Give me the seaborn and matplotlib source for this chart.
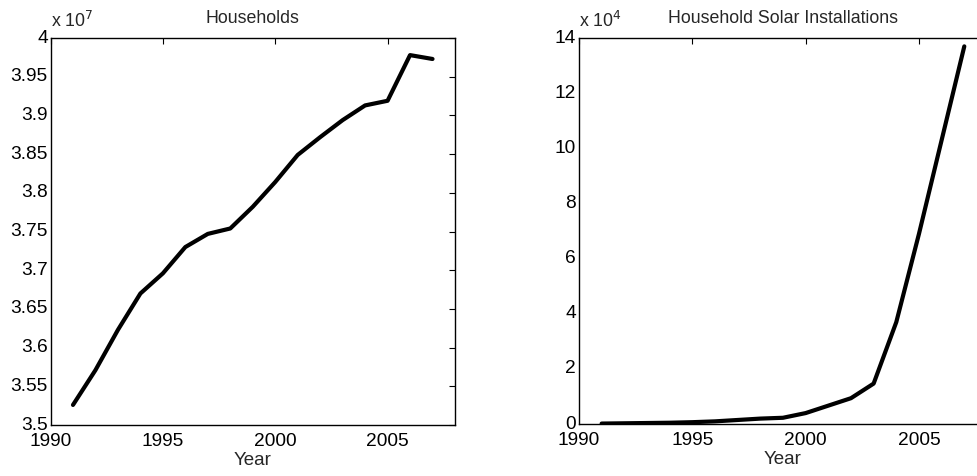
import numpy as np
import pandas as pd
import matplotlib
matplotlib.use("Agg")
import matplotlib.pyplot as plt
from matplotlib.ticker import FuncFormatter, FixedLocator
import seaborn as sns

# Annual series, 1991-2007
years = [1991, 1992, 1993, 1994, 1995, 1996, 1997, 1998, 1999,
         2000, 2001, 2002, 2003, 2004, 2005, 2006, 2007]

households = [3.526e7, 3.571e7, 3.623e7, 3.670e7, 3.696e7, 3.730e7,
              3.747e7, 3.754e7, 3.782e7, 3.814e7, 3.849e7, 3.872e7,
              3.894e7, 3.913e7, 3.919e7, 3.978e7, 3.973e7]

solar_installations = [200, 300, 400, 500, 700, 1000, 1500, 2000, 2300,
                       4000, 6700, 9400, 14700, 37000, 69000, 103000, 137000]

household_ticks = [3.5e7, 3.55e7, 3.6e7, 3.65e7, 3.7e7, 3.75e7,
                   3.8e7, 3.85e7, 3.9e7, 3.95e7, 4.0e7]
solar_ticks = [0, 2e4, 4e4, 6e4, 8e4, 10e4, 12e4, 14e4]
year_ticks = [1990, 1995, 2000, 2005]

df = pd.DataFrame({"Year": years,
                   "Households": households,
                   "Solar": solar_installations})

sns.set_theme(style="white")
plt.rcParams["font.family"] = ["Liberation Sans", "DejaVu Sans"]

fig = plt.figure(figsize=(9.77, 4.76), dpi=100)
ax1 = fig.add_axes([0.0517, 0.107, 0.414, 0.813])
ax2 = fig.add_axes([0.5926, 0.109, 0.4176, 0.811])


def style_axes(ax, yticks, scale, exponent, ylim, title):
    ax.set_xlim(1990, 2008)
    ax.set_ylim(*ylim)
    ax.xaxis.set_major_locator(FixedLocator(year_ticks))
    ax.yaxis.set_major_locator(FixedLocator(yticks))
    ax.yaxis.set_major_formatter(FuncFormatter(lambda v, p: "%g" % round(v / scale, 4)))
    ax.tick_params(direction="in", length=4, width=0.8, top=True, right=True,
                   labelsize=13.8, colors="black")
    ax.tick_params(axis="x", pad=6)
    ax.tick_params(axis="y", pad=2)
    plt.setp(ax.get_yticklabels(), va="center")
    for s in ax.spines.values():
        s.set_visible(True)
        s.set_color("black")
        s.set_linewidth(1.0)
    ax.set_xlabel("Year", fontsize=13.5, labelpad=1)
    ax.set_ylabel("")
    ax.set_title(title, fontsize=12.8, pad=11)
    ax.text(0.0, 1.018, r"x 10$^{%d}$" % exponent, transform=ax.transAxes,
            fontsize=12.8, ha="left", va="bottom")
    ax.grid(False)


sns.lineplot(data=df, x="Year", y="Households", ax=ax1, color="black",
             linewidth=3.0)
style_axes(ax1, household_ticks, 1e7, 7, (3.5e7, 4.0e7), "Households")

sns.lineplot(data=df, x="Year", y="Solar", ax=ax2, color="black",
             linewidth=3.0)
style_axes(ax2, solar_ticks, 1e4, 4, (0, 14e4), "Household Solar Installations")

fig.savefig("out.png", dpi=100, facecolor="white")
